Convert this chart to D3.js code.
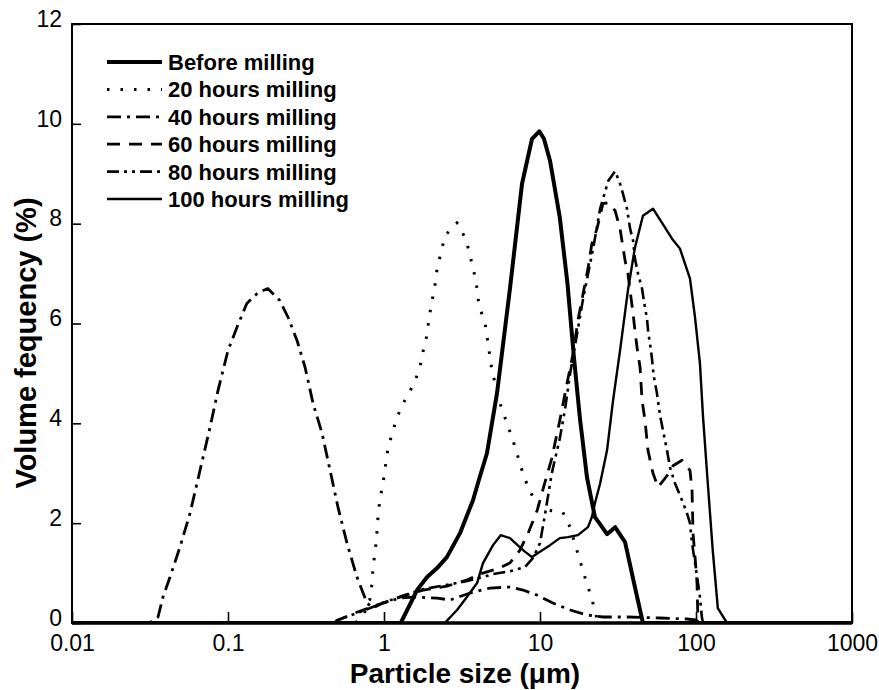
<!DOCTYPE html>
<html>
<head>
<meta charset="utf-8">
<script src="https://cdn.jsdelivr.net/npm/d3@7"></script>
<style>
  body { margin: 0; background: #fff; }
  text { font-family: "Liberation Sans", Arial, sans-serif; }
</style>
</head>
<body>
<div id="chart"></div>
<script>
// particle size (um), volume frequency (%)
const beforeMilling = [[0.01,0],[1.28,0],[1.63,0.66],[1.89,0.92],[2.19,1.1],[2.53,1.32],[3.07,1.8],[3.72,2.46],[4.0,2.8],[4.57,3.4],[5.3,4.6],[6.42,6.7],[7.67,8.8],[8.89,9.7],[9.9,9.85],[10.6,9.7],[11.6,9.26],[13.4,8.12],[15.0,6.8],[16.5,5.32],[18.0,4.12],[20.0,2.92],[22.5,2.12],[24.0,2.0],[26.9,1.78],[30.3,1.92],[35.1,1.62],[40.6,0.72],[45.7,0],[1000,0]];
const hours20 = [[0.01,0],[0.65,0],[0.73,0.12],[0.81,0.46],[0.84,0.82],[0.85,1.12],[0.88,1.46],[0.9,1.8],[0.915,2.12],[0.94,2.46],[0.985,2.8],[1.06,3.5],[1.13,3.8],[1.21,4.12],[1.36,4.46],[1.56,4.8],[1.7,5.12],[1.78,5.44],[1.89,5.78],[1.94,6.1],[2.03,6.44],[2.12,6.76],[2.19,7.1],[2.32,7.42],[2.46,7.76],[2.94,8.02],[3.36,7.68],[3.56,7.36],[3.78,7.02],[3.95,6.7],[4.06,6.36],[4.44,6.02],[4.92,5.06],[5.54,4.4],[6.14,4.0],[6.71,3.66],[7.67,3.06],[8.38,2.72],[9.57,2.36],[11.1,2.26],[14.0,2.22],[15.6,1.92],[16.7,1.6],[18.0,1.26],[19.4,0.92],[20.9,0.6],[22.5,0.26],[23.5,0],[1000,0]];
const hours40 = [[0.01,0],[0.0316,0],[0.0356,0.12],[0.0383,0.52],[0.0425,0.92],[0.0492,1.52],[0.0571,2.2],[0.0662,3.06],[0.0767,3.92],[0.0863,4.66],[0.1,5.46],[0.114,5.92],[0.132,6.4],[0.156,6.62],[0.18,6.7],[0.215,6.46],[0.243,6.12],[0.277,5.66],[0.312,5.12],[0.351,4.4],[0.401,3.8],[0.451,3.06],[0.507,2.32],[0.579,1.6],[0.671,0.92],[0.778,0.4],[0.85,0.3],[0.985,0.4],[1.27,0.5],[1.53,0.52],[2.19,0.5],[2.65,0.46],[3.56,0.6],[4.78,0.7],[6.42,0.72],[7.78,0.66],[9.57,0.56],[12.1,0.4],[15.6,0.26],[20.0,0.16],[25.3,0.12],[36.1,0.12],[58.8,0.1],[87.5,0.08],[100,0.06],[106,0],[1000,0]];
const hours60 = [[0.01,0],[0.48,0],[0.507,0.06],[0.65,0.2],[0.94,0.38],[1.27,0.52],[1.78,0.66],[2.53,0.74],[3.4,0.86],[4.12,0.98],[5.5,1.1],[6.4,1.2],[7.4,1.45],[8.4,1.8],[9.6,2.26],[10.5,2.7],[11.9,3.3],[13.4,4.06],[14.9,4.8],[16.3,5.4],[17.5,6.06],[18.9,6.6],[20.3,7.1],[21.5,7.6],[23.2,7.9],[25.3,8.4],[27.5,8.42],[30.3,8.26],[32.6,7.9],[33.5,7.66],[35.1,7.26],[36.6,7.0],[37.8,6.66],[39.5,6.2],[40.6,5.86],[41.9,5.52],[43.8,5.12],[45.1,4.46],[47.1,4.06],[49.2,3.46],[53.0,3.0],[57.1,2.72],[65.2,2.95],[71.2,3.15],[81.3,3.26],[91.5,3.06],[94.3,2.66],[95.7,1.8],[98.6,1.32],[101.5,0.8],[102.5,0.26],[103,0],[1000,0]];
const hours80 = [[0.01,0],[0.45,0],[0.55,0.1],[0.73,0.24],[0.98,0.4],[1.3,0.54],[1.8,0.68],[2.5,0.76],[3.4,0.84],[4.3,0.92],[5.0,0.98],[6.5,1.04],[8.0,1.12],[9.0,1.3],[10,1.6],[10.8,2.2],[11.9,3.0],[13.4,3.7],[14.5,4.3],[15.6,5.0],[17.3,5.8],[18.9,6.5],[21.9,7.5],[24.3,8.3],[27.4,8.86],[30.3,9.05],[32.6,8.8],[34.0,8.6],[36.1,8.3],[37.8,7.9],[39.5,7.66],[40.6,7.3],[42.5,7.0],[45.1,6.7],[46.5,6.42],[48.5,6.1],[49.5,5.8],[50.7,5.6],[52.2,5.3],[53.5,4.96],[56.2,4.6],[58.8,4.16],[61.4,3.86],[65.2,3.46],[68.1,3.12],[73.3,2.8],[81.3,2.46],[87.5,2.2],[91.5,2.0],[94.3,1.6],[98.6,1.2],[103,0.8],[106,0.52],[109,0.12],[111,0],[1000,0]];
const hours100 = [[0.01,0],[2.45,0],[2.94,0.26],[3.4,0.52],[3.95,0.8],[4.31,1.2],[5.0,1.56],[5.6,1.76],[6.42,1.7],[7.78,1.46],[8.89,1.32],[9.71,1.4],[11.6,1.56],[13.4,1.7],[15.1,1.72],[17.5,1.76],[20.3,1.92],[21.5,2.12],[22.5,2.4],[24.3,2.8],[26.9,3.46],[29.4,4.46],[32.6,5.46],[36.6,6.66],[40.6,7.52],[45.7,8.16],[53.0,8.3],[70.2,7.7],[78.9,7.5],[91.5,6.9],[98.6,6.12],[106,5.2],[111,4.12],[119,2.8],[128,1.46],[138,0.3],[158,0],[1000,0]];

const seriesNames = ["Before milling", "20 hours milling", "40 hours milling", "60 hours milling", "80 hours milling", "100 hours milling"];
const xTicks = [0.01, 0.1, 1, 10, 100, 1000];
const xTickLabels = ["0.01", "0.1", "1", "10", "100", "1000"];
const yTicks = [0, 2, 4, 6, 8, 10, 12];

const series = [
  { name: seriesNames[0], data: beforeMilling, width: 4, dash: null },
  { name: seriesNames[1], data: hours20, width: 3, dash: "2.5,11" },
  { name: seriesNames[2], data: hours40, width: 2.8, dash: "14,6,3,6" },
  { name: seriesNames[3], data: hours60, width: 2.8, dash: "13,9" },
  { name: seriesNames[4], data: hours80, width: 2.6, dash: "12,5,3,5,3,5" },
  { name: seriesNames[5], data: hours100, width: 2.4, dash: null }
];

const W = 879, H = 690;
const plotLeft = 72, plotRight = 852, plotTop = 24, plotBottom = 623;

const svg = d3.select("#chart").append("svg")
    .attr("width", W)
    .attr("height", H);

const x = d3.scaleLog().domain([0.01, 1000]).range([plotLeft, plotRight]);
const y = d3.scaleLinear().domain([0, 12]).range([plotBottom, plotTop]);

svg.append("clipPath").attr("id", "plot")
  .append("rect")
    .attr("x", plotLeft).attr("y", plotTop - 5)
    .attr("width", plotRight - plotLeft).attr("height", plotBottom - plotTop + 5);

const line = d3.line()
    .x(d => x(d[0]))
    .y(d => y(d[1]));

svg.append("g")
    .attr("clip-path", "url(#plot)")
  .selectAll("path")
  .data(series)
  .enter().append("path")
    .attr("d", d => line(d.data))
    .attr("fill", "none")
    .attr("stroke", "#000")
    .attr("stroke-width", d => d.width)
    .attr("stroke-linejoin", "round")
    .attr("stroke-dasharray", d => d.dash);

// axes, ticks inside
const xAxis = d3.axisBottom(x)
    .tickValues(xTicks)
    .tickFormat((d, i) => xTickLabels[i])
    .tickSize(-11)
    .tickPadding(12);

const yAxis = d3.axisLeft(y)
    .tickValues(yTicks)
    .tickSize(-9)
    .tickPadding(10);

const gx = svg.append("g")
    .attr("transform", `translate(0,${plotBottom})`)
    .call(xAxis);
const gy = svg.append("g")
    .attr("transform", `translate(${plotLeft},0)`)
    .call(yAxis);

[gx, gy].forEach(g => {
  g.select(".domain").remove();
  g.selectAll(".tick line").attr("stroke", "#000").attr("stroke-width", 1.6);
  g.selectAll(".tick text")
    .attr("fill", "#000")
    .style("font-size", "23px")
    .style("font-family", "'Liberation Sans', Arial, sans-serif");
});
gy.selectAll(".tick text").attr("dy", "0.1em");

// frame
svg.append("rect")
    .attr("x", plotLeft).attr("y", plotTop)
    .attr("width", plotRight - plotLeft).attr("height", plotBottom - plotTop)
    .attr("fill", "none")
    .attr("stroke", "#000")
    .attr("stroke-width", 2);
svg.append("line")
    .attr("x1", plotLeft).attr("x2", plotRight)
    .attr("y1", plotBottom).attr("y2", plotBottom)
    .attr("stroke", "#000")
    .attr("stroke-width", 3.5);

// axis titles
svg.append("text")
    .attr("x", 465)
    .attr("y", 683)
    .attr("text-anchor", "middle")
    .style("font-size", "28px")
    .style("font-weight", "bold")
    .text("Particle size (\u03bcm)");

svg.append("text")
    .attr("transform", "translate(36,343) rotate(-90)")
    .attr("text-anchor", "middle")
    .style("font-size", "29px")
    .style("font-weight", "bold")
    .text("Volume fequency (%)");

// legend
const legend = svg.append("g")
  .selectAll(".legend")
  .data(series)
  .enter().append("g")
    .attr("class", "legend")
    .attr("transform", (d, i) => `translate(107,${62 + i * 27.4})`);

legend.append("line")
    .attr("x1", 0).attr("x2", 55)
    .attr("stroke", "#000")
    .attr("stroke-width", d => d.width)
    .attr("stroke-dasharray", d => d.dash);

legend.append("text")
    .attr("x", 61)
    .attr("dy", "0.36em")
    .style("font-size", "22px")
    .style("font-weight", "bold")
    .text(d => d.name);
</script>
</body>
</html>
